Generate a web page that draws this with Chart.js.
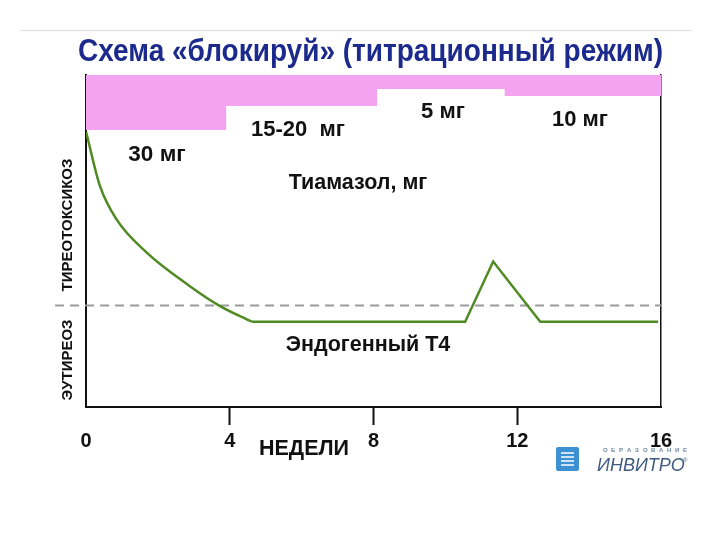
<!DOCTYPE html>
<html><head><meta charset="utf-8">
<script src="https://cdn.jsdelivr.net/npm/chart.js@4/dist/chart.umd.min.js"></script>
<style>html,body{margin:0;padding:0;background:#fff}#wrap{width:720px;height:540px;position:relative}</style>
</head><body><div id="wrap"><canvas id="c" width="720" height="540"></canvas></div>
<script>
// Axis ticks (weeks)
const weekTicks = [0, 4, 8, 12, 16];
// Thiamazole dose band (step boundaries in weeks, lower edge of band)
const doseWeeks = [0, 3.9, 8.1, 11.65, 16];
const doseLevel = [83.4, 90.7, 95.8, 93.7, 93.7];
const doseLabels = ["30 мг", "15-20  мг", "5 мг", "10 мг"];
// Endogenous T4: decay phase and later phase
const t4DecayWeeks = [0, 0.39, 0.85, 1.69, 2.89, 3.73, 4.61];
const t4DecayLevel = [83, 66.5, 56.5, 46.5, 36.4, 30.4, 25.7];
const t4LaterWeeks = [4.61, 10.55, 11.33, 12.64, 15.92];
const t4LaterLevel = [25.7, 25.7, 43.8, 25.7, 25.7];
// Euthyroid / thyrotoxicosis threshold
const thresholdWeeks = [-0.86, 16];
const thresholdLevel = [30.6, 30.6];

const pts = (xs, ys) => xs.map((x, i) => ({x: x, y: ys[i]}));
const FONT = '"Liberation Sans", Arial, sans-serif';

const textPlugin = {
  id: 'texts',
  afterDraw(chart) {
    const ctx = chart.ctx;
    ctx.save();
    // top rule
    ctx.strokeStyle = '#d6dee7'; ctx.lineWidth = 1;
    ctx.beginPath(); ctx.moveTo(20, 30.5); ctx.lineTo(692, 30.5); ctx.stroke();
    // title
    const title = 'Схема «блокируй» (титрационный режим)';
    ctx.font = 'bold 31px ' + FONT;
    ctx.fillStyle = '#1b2a8c';
    ctx.textBaseline = 'alphabetic'; ctx.textAlign = 'left';
    const w = ctx.measureText(title).width;
    ctx.save(); ctx.translate(78, 61); ctx.scale(585 / w, 1); ctx.fillText(title, 0, 0); ctx.restore();
    // labels
    ctx.fillStyle = '#111'; ctx.textAlign = 'center'; ctx.textBaseline = 'middle';
    const lab = (t, x, y, size) => { ctx.font = 'bold ' + size + 'px ' + FONT; ctx.fillText(t, x, y); };
    lab(doseLabels[0], 157, 155, 22.5);
    lab(doseLabels[1], 298, 130, 22);
    lab(doseLabels[2], 443, 112, 22);
    lab(doseLabels[3], 580, 120, 22);
    lab('Тиамазол, мг', 358, 183, 21.5);
    lab('Эндогенный Т4', 368, 345, 21.5);
    lab('НЕДЕЛИ', 304, 449, 21.5);
    // rotated zone labels
    ctx.save(); ctx.translate(68, 225); ctx.rotate(-Math.PI / 2);
    ctx.font = 'bold 15px ' + FONT; ctx.fillText('ТИРЕОТОКСИКОЗ', 0, 0); ctx.restore();
    ctx.save(); ctx.translate(68, 360); ctx.rotate(-Math.PI / 2);
    ctx.font = 'bold 15px ' + FONT; ctx.fillText('ЭУТИРЕОЗ', 0, 0); ctx.restore();
    // logo
    ctx.fillStyle = '#3d90d2';
    ctx.beginPath(); ctx.roundRect(556, 447, 23, 24, 2); ctx.fill();
    ctx.strokeStyle = '#fff'; ctx.lineWidth = 1.5;
    [453, 457, 461, 465].forEach(yy => { ctx.beginPath(); ctx.moveTo(561, yy); ctx.lineTo(574, yy); ctx.stroke(); });
    ctx.fillStyle = '#6d88a8'; ctx.textAlign = 'left'; ctx.textBaseline = 'middle';
    ctx.font = 'bold 6px ' + FONT;
    'ОБРАЗОВАНИЕ'.split('').forEach((ch, i) => ctx.fillText(ch, 603 + i * 8, 450));
    ctx.fillStyle = '#3f5c80';
    ctx.font = 'italic 18px ' + FONT; ctx.textBaseline = 'alphabetic';
    ctx.fillText('ИНВИТРО', 597, 471);
    ctx.font = '6px ' + FONT; ctx.fillText('®', 683, 462);
    ctx.restore();
  }
};

new Chart(document.getElementById('c'), {
  type: 'line',
  data: {
    datasets: [
      { data: pts(t4DecayWeeks, t4DecayLevel), borderColor: '#4f8a22', borderWidth: 2.5, pointRadius: 0, cubicInterpolationMode: 'monotone', fill: false },
      { data: pts(t4LaterWeeks, t4LaterLevel), borderColor: '#4f8a22', borderWidth: 2.5, pointRadius: 0, tension: 0, fill: false },
      { data: pts(thresholdWeeks, thresholdLevel), borderColor: '#9a9a9a', borderWidth: 2, borderDash: [9, 6], pointRadius: 0, fill: false, clip: false },
      { data: pts(doseWeeks, doseLevel), borderWidth: 0, borderColor: 'rgba(0,0,0,0)', backgroundColor: '#f3a3ef', pointRadius: 0, stepped: 'before', fill: 'end' }
    ]
  },
  options: {
    responsive: false, animation: false,
    layout: { padding: { left: 0, right: 59, top: 75, bottom: 0 } },
    plugins: { legend: { display: false }, tooltip: { enabled: false }, title: { display: false } },
    scales: {
      x: {
        type: 'linear', min: weekTicks[0], max: weekTicks[weekTicks.length - 1],
        afterBuildTicks: s => { s.ticks = weekTicks.map(v => ({ value: v })); },
        afterFit: s => { s.height = 133; },
        ticks: { color: '#111', font: { family: FONT, size: 20, weight: 'bold' }, padding: 4, maxRotation: 0, autoSkip: false },
        grid: { drawOnChartArea: false, drawTicks: true, tickLength: 18, tickWidth: 2,
          tickColor: c => (c.tick && (c.tick.value === 4 || c.tick.value === 8 || c.tick.value === 12)) ? '#111' : 'rgba(0,0,0,0)' },
        border: { display: true, color: '#111', width: 2 }
      },
      y: {
        min: 0, max: 100, position: 'left',
        afterFit: s => { s.width = 86; },
        ticks: { display: false }, grid: { display: false, drawTicks: false },
        border: { display: true, color: '#111', width: 2 }
      },
      y2: {
        min: 0, max: 100, position: 'right',
        afterFit: s => { s.width = 0; },
        ticks: { display: false }, grid: { display: false, drawTicks: false },
        border: { display: true, color: '#111', width: 1.5 }
      }
    }
  },
  plugins: [textPlugin]
});
</script></body></html>
